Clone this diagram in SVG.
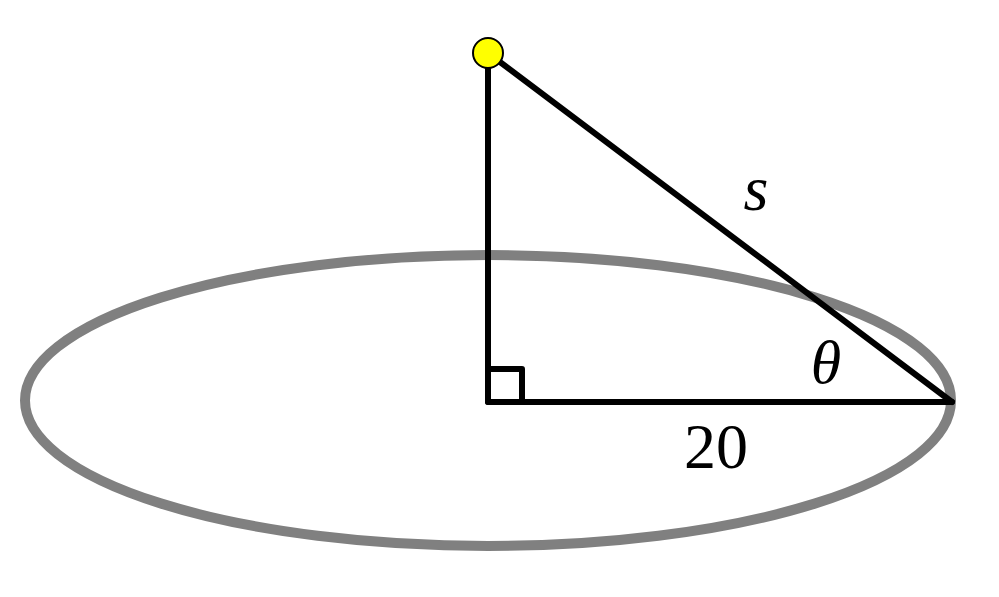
<svg xmlns="http://www.w3.org/2000/svg" width="999" height="597" viewBox="0 0 999 597">
<style>
.ln{stroke:#000;stroke-width:6;fill:none;stroke-linecap:round;stroke-linejoin:round}
.t{font-family:"Liberation Serif","DejaVu Serif",serif;fill:#000}
</style>
<rect width="999" height="597" fill="#fff"/>
<g id="ellipse"><ellipse cx="488" cy="400.5" rx="463" ry="145.5" fill="none" stroke="#808080" stroke-width="10"/></g>
<g id="connectors">
<line class="ln" x1="488" y1="53" x2="488" y2="402"/>
<line class="ln" x1="488" y1="402" x2="952" y2="402"/>
<line class="ln" x1="488" y1="53" x2="952" y2="402"/>
<polyline class="ln" points="488,369 522,369 522,402"/>
</g>
<g id="point"><circle cx="488" cy="53" r="15" fill="#ffff00" stroke="#000" stroke-width="2"/></g>
<g id="labels">
<text class="t" x="756" y="210" font-size="64" font-style="italic" text-anchor="middle">s</text>
<text class="t" x="826" y="383" font-size="62" font-style="italic" text-anchor="middle">θ</text>
<text class="t" x="716" y="468" font-size="64" text-anchor="middle">20</text>
</g>
</svg>
